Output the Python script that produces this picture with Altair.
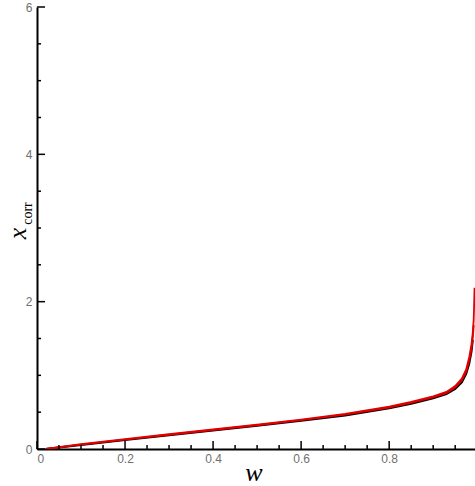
import altair as alt
import pandas as pd

# ---- data ----
w_red1 = [0.02, 0.10, 0.20, 0.30, 0.40, 0.50, 0.60, 0.70, 0.80, 0.85, 0.90, 0.93, 0.95, 0.965, 0.975, 0.982, 0.987, 0.990, 0.992, 0.993, 0.994]
x_red1 = [0.00, 0.065, 0.135, 0.200, 0.265, 0.330, 0.400, 0.475, 0.575, 0.640, 0.715, 0.775, 0.855, 0.955, 1.08, 1.25, 1.42, 1.58, 1.75, 1.95, 2.19]

w_red2 = [0.02, 0.10, 0.20, 0.30, 0.40, 0.50, 0.60, 0.70, 0.80, 0.85, 0.90, 0.93, 0.95, 0.965, 0.975, 0.982, 0.987, 0.990, 0.992]
x_red2 = [0.00, 0.060, 0.128, 0.193, 0.257, 0.322, 0.392, 0.466, 0.563, 0.627, 0.700, 0.760, 0.835, 0.930, 1.05, 1.20, 1.36, 1.52, 1.68]

w_black = [0.02, 0.10, 0.20, 0.30, 0.40, 0.50, 0.60, 0.70, 0.80, 0.85, 0.90, 0.93, 0.95, 0.965, 0.975, 0.982, 0.987, 0.990]
x_black = [0.00, 0.055, 0.122, 0.186, 0.250, 0.314, 0.383, 0.456, 0.552, 0.615, 0.688, 0.745, 0.815, 0.905, 1.02, 1.16, 1.32, 1.48]

x_major = [0.0, 0.2, 0.4, 0.6, 0.8]
x_minor = [0.05, 0.1, 0.15, 0.25, 0.3, 0.35, 0.45, 0.5, 0.55, 0.65, 0.7, 0.75, 0.85, 0.9, 0.95]
y_major = [0, 2, 4, 6]
y_minor = [0.5, 1, 1.5, 2.5, 3, 3.5, 4.5, 5, 5.5]

W, H = 438, 442
xs = alt.Scale(domain=[0, 0.995], nice=False, zero=False)
ys = alt.Scale(domain=[0, 6], nice=False)

rows = []
for name, ws, xv in [("black", w_black, x_black), ("red2", w_red2, x_red2), ("red1", w_red1, x_red1)]:
    for i, (a, b) in enumerate(zip(ws, xv)):
        rows.append({"series": name, "w": a, "xc": b, "i": i})
df = pd.DataFrame(rows)

lbl = "Liberation Sans"
serif = "Liberation Serif"
# x axis carries the subscript "corr" of the vertical title (positioned by titleX/titleY)
axis_x = alt.Axis(values=x_major, format="~g", ticks=False, grid=False, domainColor="black",
                  domainWidth=2, labelColor="#707070", labelFont=lbl, labelFontSize=12,
                  labelPadding=4, title="corr", titleFont=serif, titleFontSize=14,
                  titleFontWeight="normal", titleColor="black", titleAngle=270,
                  titleAlign="center", titleBaseline="middle", titleX=-10, titleY=-236)
# y axis carries the italic "x" of the vertical title
axis_y = alt.Axis(values=y_major, format="~g", ticks=False, grid=False, domainColor="black",
                  domainWidth=2, labelColor="#707070", labelFont=lbl, labelFontSize=12,
                  labelPadding=5, title="x", titleFont=serif, titleFontStyle="italic",
                  titleFontSize=26, titleFontWeight="normal", titleColor="black", titleAngle=270,
                  titleAlign="center", titleBaseline="middle", titleX=-20, titleY=226)

base = alt.Chart(df)
lines = base.mark_line(clip=True).encode(
    x=alt.X("w:Q", scale=xs, axis=axis_x),
    y=alt.Y("xc:Q", scale=ys, axis=axis_y),
    detail="series:N",
    order="i:Q",
    color=alt.Color("series:N", scale=alt.Scale(domain=["black", "red2", "red1"],
                                                 range=["#000000", "#cc0000", "#e00000"]), legend=None),
    strokeWidth=alt.StrokeWidth("series:N", scale=alt.Scale(domain=["black", "red2", "red1"],
                                                             range=[2.0, 1.8, 1.6]), legend=None),
)

def ticks_x(vals, length):
    return alt.Chart(pd.DataFrame({"tx": vals})).mark_rule(color="black", strokeWidth=1.5).encode(
        x=alt.X("tx:Q", scale=xs, axis=axis_x), y=alt.value(H), y2=alt.value(H - length))

def ticks_y(vals, length):
    return alt.Chart(pd.DataFrame({"ty": vals})).mark_rule(color="black", strokeWidth=1.5).encode(
        y=alt.Y("ty:Q", scale=ys, axis=axis_y), x=alt.value(0), x2=alt.value(length))

t = pd.DataFrame({"k": [0]})
title_w = alt.Chart(t).mark_text(text="w", font=serif, fontStyle="italic", fontSize=26,
                                 align="center", baseline="alphabetic").encode(
    x=alt.value(217), y=alt.value(H + 32))

chart = alt.layer(
    lines,
    ticks_x(x_major, 8), ticks_x(x_minor, 4),
    ticks_y(y_major, 8), ticks_y(y_minor, 4),
    title_w,
).properties(
    width=W, height=H,
    autosize=alt.AutoSizeParams(type="none"),
    padding={"left": 37, "top": 7, "right": 0, "bottom": 37},
).configure_view(stroke=None)

chart.save("out.html", embed_options={"renderer": "svg", "actions": False})
